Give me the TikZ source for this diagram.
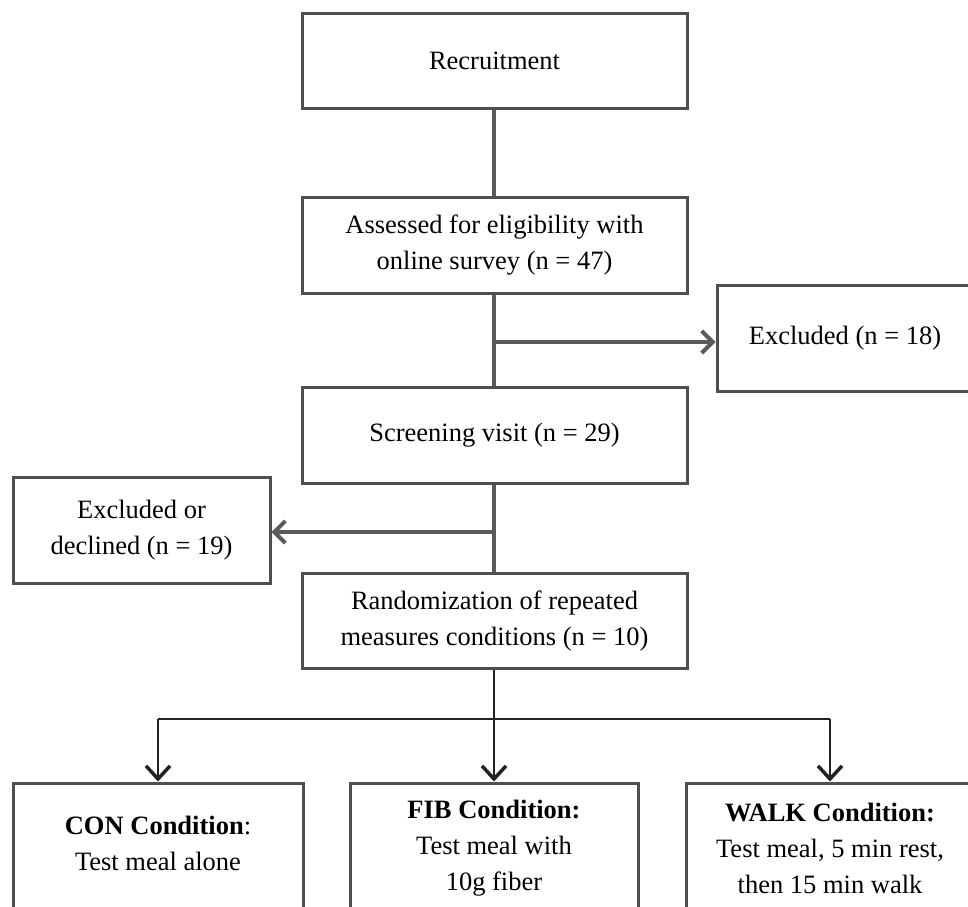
\documentclass[tikz,border=0pt]{standalone}
\usepackage{fontspec}
\setmainfont{Liberation Serif}
\usetikzlibrary{arrows.meta}
\definecolor{boxline}{HTML}{4F4F4F}
\definecolor{conline}{HTML}{5A5A5A}
\definecolor{lowline}{HTML}{222222}
\begin{document}
\begin{tikzpicture}[x=1pt,y=-1pt,
  box/.style={draw=boxline, line width=3pt, fill=white, align=center,
    font=\fontsize{26.5}{36}\selectfont, inner sep=0pt},
  mainbox/.style={box, minimum width=385pt, minimum height=95pt},
  upconn/.style={draw=conline, line width=4pt},
  lowconn/.style={draw=lowline, line width=2.5pt},
  barb/.style={-{Straight Barb[length=11pt,width=22pt]}},
  lowbarb/.style={-{Straight Barb[length=13pt,width=24pt,line width=3.5pt]}}
]
\useasboundingbox (0,0) rectangle (968,906);
\clip (0,0) rectangle (968,906);
\fill[white] (0,0) rectangle (968,906);

% main column
\node[mainbox] (rec) at (494.5,60.5) {Recruitment};
\node[mainbox, minimum height=96pt] (ass) at (494.5,245) {Assessed for eligibility with\\online survey (n = 47)};
\node[mainbox, minimum height=96pt] (scr) at (494.5,435) {Screening visit (n = 29)};
\node[mainbox] (ran) at (494.5,620.5) {Randomization of repeated\\measures conditions (n = 10)};

% side boxes
\node[box, minimum width=256pt, minimum height=106pt] (exa) at (845,338) {Excluded (n = 18)};
\node[box, minimum width=257pt, minimum height=106pt] (exb) at (141.5,530) {Excluded or\\declined (n = 19)};

% condition boxes
\node[box, minimum width=290pt, minimum height=130pt, text depth=10pt] (con) at (158,848) {\textbf{CON Condition}:\\Test meal alone};
\node[box, minimum width=288pt, minimum height=130pt] (fib) at (494,848) {\textbf{FIB Condition:}\\Test meal with\\10g fiber};
\node[box, minimum width=288pt, minimum height=130pt] (walk) at (830,848) {\textbf{WALK Condition:}\\Test meal, 5 min rest,\\then 15 min walk};

% junction coordinates
\coordinate (ja) at (494,342);
\coordinate (jb) at (494,532);
\coordinate (jc) at (494,719);
\coordinate (jl) at (158,719);
\coordinate (jr) at (830,719);

% connectors
\draw[upconn] (rec.south -| ja) -- (ass.north -| ja);
\draw[upconn] (ass.south -| ja) -- (scr.north -| ja);
\draw[upconn, barb] (ja) -- (exa.west |- ja);
\draw[upconn] (scr.south -| jb) -- (ran.north -| jb);
\draw[upconn, barb] (jb) -- (exb.east |- jb);
\draw[lowconn] (ran.south -| jc) -- (jc);
\draw[lowconn] (jl) -- (jr);
\draw[lowconn, lowbarb] (jl) -- (con.north);
\draw[lowconn, lowbarb] (jc) -- (fib.north);
\draw[lowconn, lowbarb] (jr) -- (walk.north);
\end{tikzpicture}
\end{document}
